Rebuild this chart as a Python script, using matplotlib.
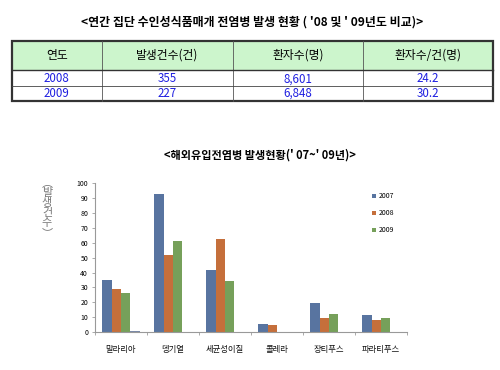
import numpy as np
import matplotlib.pyplot as plt
from matplotlib.patches import Rectangle

plt.rcParams['font.family'] = ['Noto Sans CJK KR', 'DejaVu Sans']

# 표 데이터
col_heads = ["연도", "발생건수(건)", "환자수(명)", "환자수/건(명)"]
years_tbl = ["2008", "2009"]
cases_tbl = ["355", "227"]
patients_tbl = ["8,601", "6,848"]
per_case_tbl = ["24.2", "30.2"]

# 해외유입전염병 데이터
diseases = ["말라리아", "뎅기열", "세균성이질", "콜레라", "장티푸스", "파라티푸스"]
v2007 = [35, 93, 41.5, 5.6, 19.3, 11.4]
v2008 = [29, 52, 62.5, 4.9, 9.6, 8.1]
v2009 = [26, 61.5, 34, 0, 11.9, 9.6]
v_extra = [1, 0, 0, 0, 0, 0]
yticks = list(range(0, 101, 10))
ylabel_chars = ["︵", "발", "생", "건", "수", "︶"]

fig = plt.figure(figsize=(5, 3.7), dpi=100)

# 전체 좌표(픽셀) 축 - 제목과 표
bg = fig.add_axes([0, 0, 1, 1])
bg.set_xlim(0, 500)
bg.set_ylim(370, 0)
bg.axis("off")

bg.text(252, 22, "<연간 집단 수인성식품매개 전염병 발생 현황 ( '08 및 ' 09년도 비교)>",
        ha="center", va="center", fontsize=8.6, fontweight="bold")

col_x = [12, 101.7, 233, 362.7, 493]
row_y = [41, 70, 86, 100.7]
bg.add_patch(Rectangle((col_x[0], row_y[0]), col_x[-1] - col_x[0], row_y[1] - row_y[0],
                       facecolor="#ccf5cc", edgecolor="none"))
for x in col_x[1:-1]:
    bg.plot([x, x], [row_y[0], row_y[-1]], color="#555555", lw=0.6)
bg.plot([col_x[0], col_x[-1]], [row_y[1], row_y[1]], color="#333333", lw=1.0)
bg.plot([col_x[0], col_x[-1]], [row_y[2], row_y[2]], color="#444444", lw=0.6)
bg.add_patch(Rectangle((col_x[0], row_y[0]), col_x[-1] - col_x[0], row_y[-1] - row_y[0],
                       facecolor="none", edgecolor="#333333", lw=1.6))

for i, h in enumerate(col_heads):
    cx = (col_x[i] + col_x[i + 1]) / 2
    bg.text(cx, (row_y[0] + row_y[1]) / 2, h, ha="center", va="center", fontsize=8.5)

rows = list(zip(years_tbl, cases_tbl, patients_tbl, per_case_tbl))
for r, vals in enumerate(rows):
    cy = (row_y[r + 1] + row_y[r + 2]) / 2 + (0.8 if r == 0 else 0)
    for i, v in enumerate(vals):
        cx = (col_x[i] + col_x[i + 1]) / 2
        bg.text(cx, cy, v, ha="center", va="center", fontsize=8.3, color="#1f1fe0")

bg.text(260, 155, "<해외유입전염병 발생현황(' 07~' 09년)>",
        ha="center", va="center", fontsize=8, fontweight="bold")

# y축 제목 (세로 글자)
for j, ch in enumerate(ylabel_chars):
    bg.text(47, 183 + j * 10, ch, ha="center", va="center",
            fontsize=8, color="#7a7a7a")

# 막대 차트
ax = fig.add_axes([95 / 500, (370 - 332) / 370, 312 / 500, (332 - 183.3) / 370])
x = np.arange(len(diseases))
w = 0.18
colors = ["#5874a0", "#c56f3b", "#76a05a", "#7a8aa8"]
series = [v2007, v2008, v2009, v_extra]
labels = ["2007", "2008", "2009", None]
for k, (vals, c, lab) in enumerate(zip(series, colors, labels)):
    ax.bar(x - 1.5 * w + k * w, vals, width=w, color=c, label=lab)

ax.set_xlim(-0.5, len(diseases) - 0.5)
ax.set_ylim(0, 100)
ax.set_yticks(yticks)
ax.tick_params(axis="y", labelsize=5, length=2, width=0.5, color="#888888", pad=3)
ax.set_xticks(x)
ax.set_xticklabels([])
ax.tick_params(axis="x", length=0)
ax.set_xticks(np.arange(-0.5, len(diseases)), minor=True)
ax.tick_params(axis="x", which="minor", length=2, width=0.5, color="#888888")
for s in ["top", "right"]:
    ax.spines[s].set_visible(False)
for s in ["left", "bottom"]:
    ax.spines[s].set_color("#999999")
    ax.spines[s].set_linewidth(0.8)

for i, d in enumerate(diseases):
    ax.text(i, -12, d, ha="center", va="center", fontsize=6, color="#111111")

handles, labs = ax.get_legend_handles_labels()
fig.legend(handles[:3], labs[:3], loc="upper left", bbox_to_anchor=(366 / 500, 1 - 186 / 370),
           frameon=False, fontsize=5, handlelength=0.6, handleheight=0.6,
           handletextpad=0.4, labelspacing=1.3)

plt.savefig("out.png", dpi=100)
